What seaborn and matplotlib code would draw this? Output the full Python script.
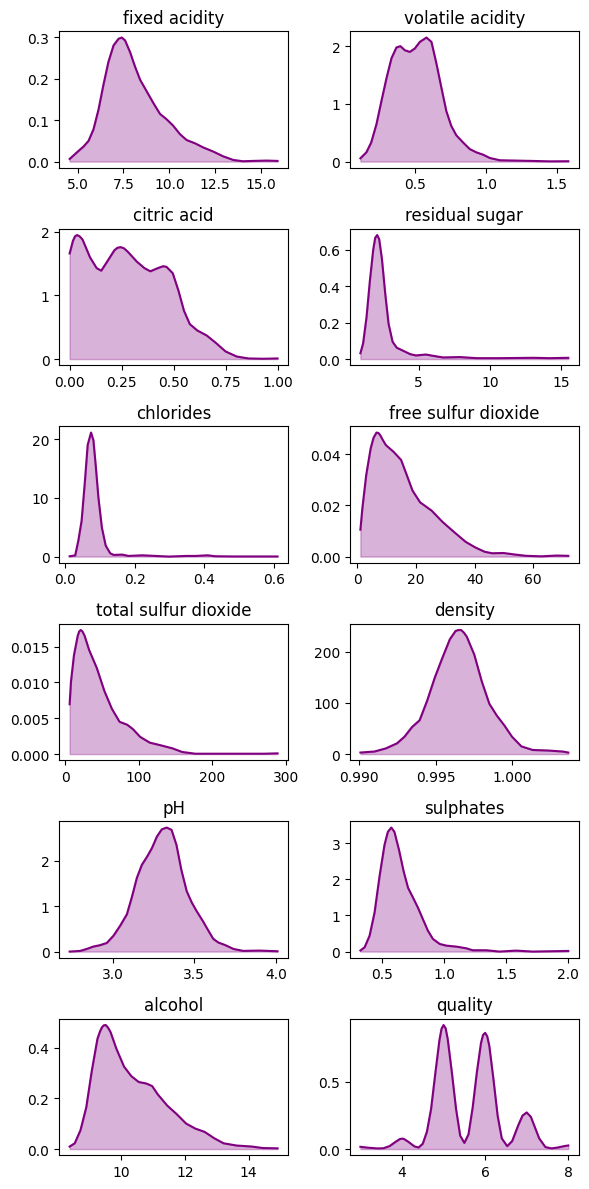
import numpy as np
import matplotlib.pyplot as plt
import seaborn as sns

# density curves (x, density)
fixed_acidity_x = [4.57, 4.96, 5.33, 5.6, 5.87, 6.14, 6.41, 6.68, 6.96, 7.23, 7.41, 7.59, 7.86, 8.13, 8.41, 8.77, 9.13, 9.49, 9.85, 10.2, 10.58, 10.94, 11.4, 11.85, 12.4, 12.93, 13.48, 14.0, 14.56, 15.29, 15.89]
fixed_acidity_y = [0.0063, 0.022, 0.0365, 0.05, 0.078, 0.125, 0.185, 0.24, 0.28, 0.296, 0.299, 0.292, 0.264, 0.229, 0.197, 0.169, 0.141, 0.115, 0.102, 0.087, 0.066, 0.052, 0.044, 0.034, 0.024, 0.0127, 0.004, 0.0008, 0.0016, 0.0024, 0.0016]

volatile_acidity_x = [0.114, 0.156, 0.19, 0.227, 0.262, 0.298, 0.333, 0.368, 0.396, 0.427, 0.462, 0.498, 0.533, 0.58, 0.615, 0.65, 0.686, 0.72, 0.755, 0.79, 0.838, 0.885, 0.932, 0.979, 1.026, 1.097, 1.215, 1.33, 1.45, 1.58]
volatile_acidity_y = [0.057, 0.16, 0.33, 0.646, 1.046, 1.446, 1.79, 1.977, 2.0, 1.93, 1.9, 1.96, 2.074, 2.149, 2.074, 1.70, 1.27, 0.874, 0.617, 0.457, 0.331, 0.217, 0.16, 0.12, 0.063, 0.023, 0.017, 0.011, 0.004, 0.006]

citric_acid_x = [0.0, 0.016, 0.026, 0.036, 0.048, 0.062, 0.098, 0.13, 0.152, 0.18, 0.215, 0.23, 0.246, 0.262, 0.279, 0.324, 0.36, 0.388, 0.424, 0.45, 0.466, 0.496, 0.524, 0.55, 0.578, 0.614, 0.66, 0.705, 0.75, 0.804, 0.86, 0.93, 1.0]
citric_acid_y = [1.66, 1.86, 1.93, 1.95, 1.93, 1.88, 1.60, 1.43, 1.39, 1.53, 1.71, 1.75, 1.76, 1.74, 1.69, 1.53, 1.43, 1.38, 1.43, 1.46, 1.45, 1.35, 1.07, 0.76, 0.55, 0.45, 0.37, 0.25, 0.12, 0.04, 0.01, 0.005, 0.01]

residual_sugar_x = [0.9, 1.09, 1.33, 1.56, 1.8, 1.94, 2.08, 2.22, 2.41, 2.65, 2.88, 3.16, 3.45, 3.92, 4.4, 4.8, 5.5, 6.0, 6.7, 7.9, 9.06, 10.7, 13.06, 14.2, 15.5]
residual_sugar_y = [0.032, 0.086, 0.23, 0.425, 0.60, 0.665, 0.68, 0.657, 0.55, 0.354, 0.193, 0.095, 0.0625, 0.045, 0.027, 0.02, 0.025, 0.018, 0.009, 0.011, 0.005, 0.005, 0.007, 0.005, 0.007]

chlorides_x = [0.012, 0.028, 0.037, 0.0465, 0.056, 0.064, 0.0737, 0.0805, 0.087, 0.095, 0.105, 0.116, 0.129, 0.139, 0.163, 0.182, 0.221, 0.298, 0.347, 0.376, 0.41, 0.43, 0.482, 0.611]
chlorides_y = [0.05, 0.2, 2.7, 6.1, 12.8, 19.0, 21.1, 19.8, 15.6, 10.0, 4.9, 1.85, 0.56, 0.28, 0.34, 0.11, 0.22, 0.0, 0.11, 0.11, 0.22, 0.06, 0.02, 0.02]

free_so2_x = [1.0, 1.7, 3.0, 4.5, 5.5, 6.5, 7.2, 7.8, 8.7, 9.7, 12.3, 14.9, 16.8, 18.8, 21.4, 25.3, 29.1, 33.0, 36.9, 40.2, 43.4, 46.0, 49.9, 53.8, 57.6, 62.8, 68.0, 72.0]
free_so2_y = [0.0105, 0.0192, 0.032, 0.0423, 0.0465, 0.0485, 0.0483, 0.0474, 0.0455, 0.0436, 0.041, 0.0378, 0.032, 0.0258, 0.0212, 0.018, 0.0135, 0.0096, 0.0058, 0.0036, 0.0019, 0.0013, 0.0014, 0.0008, 0.0003, 0.0001, 0.0004, 0.0003]

total_so2_x = [6, 7.8, 11.9, 17, 19, 21.2, 23.5, 26.4, 32.6, 43, 53.3, 63.6, 74, 84.3, 92, 102, 115, 131, 146, 159, 177, 219, 271, 289]
total_so2_y = [0.00695, 0.0101, 0.0138, 0.0165, 0.0171, 0.0173, 0.0171, 0.0165, 0.0145, 0.012, 0.0088, 0.0063, 0.0045, 0.0041, 0.0035, 0.0024, 0.0016, 0.0012, 0.0008, 0.0003, 0.00005, 0.00005, 0.00005, 0.0001]

density_x = [0.99007, 0.99099, 0.99173, 0.99247, 0.99296, 0.99346, 0.99395, 0.99444, 0.99494, 0.99543, 0.99593, 0.9963, 0.99648, 0.99667, 0.99685, 0.99704, 0.99753, 0.99802, 0.99852, 0.99901, 0.9995, 1.0, 1.00062, 1.00136, 1.00235, 1.00333, 1.00369]
density_y = [3, 5, 11, 21, 34, 53, 66, 104, 149, 187, 224, 240, 242, 242, 237, 229, 194, 142, 98, 75, 56, 34, 15, 8, 7, 5, 3]

ph_x = [2.735, 2.8, 2.84, 2.88, 2.92, 2.963, 3.004, 3.045, 3.086, 3.116, 3.147, 3.178, 3.21, 3.24, 3.27, 3.3, 3.33, 3.36, 3.39, 3.42, 3.453, 3.484, 3.514, 3.555, 3.586, 3.616, 3.647, 3.688, 3.74, 3.8, 3.9, 4.01]
ph_y = [0.0, 0.015, 0.058, 0.11, 0.14, 0.19, 0.35, 0.57, 0.82, 1.19, 1.62, 1.91, 2.09, 2.28, 2.53, 2.69, 2.73, 2.68, 2.35, 1.80, 1.33, 1.08, 0.89, 0.655, 0.46, 0.28, 0.2, 0.145, 0.058, 0.015, 0.022, 0.007]

sulphates_x = [0.326, 0.36, 0.40, 0.44, 0.48, 0.52, 0.547, 0.575, 0.60, 0.637, 0.674, 0.71, 0.75, 0.79, 0.83, 0.87, 0.91, 0.965, 1.02, 1.1, 1.18, 1.23, 1.34, 1.446, 1.58, 1.714, 1.875, 2.0]
sulphates_y = [0.03, 0.12, 0.44, 1.08, 2.08, 2.95, 3.31, 3.43, 3.31, 2.81, 2.22, 1.76, 1.49, 1.21, 0.89, 0.575, 0.35, 0.21, 0.164, 0.137, 0.09, 0.037, 0.037, 0.0, 0.027, 0.0, 0.01, 0.018]

alcohol_x = [8.4, 8.56, 8.74, 8.92, 9.09, 9.27, 9.35, 9.41, 9.47, 9.53, 9.6, 9.68, 9.86, 10.1, 10.33, 10.56, 10.8, 10.98, 11.15, 11.45, 11.74, 12.04, 12.33, 12.62, 12.92, 13.21, 13.62, 14.1, 14.45, 14.9]
alcohol_y = [0.010, 0.023, 0.075, 0.165, 0.307, 0.436, 0.465, 0.481, 0.489, 0.49, 0.48, 0.462, 0.397, 0.326, 0.288, 0.265, 0.259, 0.249, 0.217, 0.172, 0.139, 0.101, 0.081, 0.068, 0.043, 0.023, 0.014, 0.010, 0.004, 0.003]

quality_x = [3.0, 3.2, 3.4, 3.55, 3.7, 3.85, 3.95, 4.0, 4.05, 4.15, 4.3, 4.4, 4.5, 4.6, 4.7, 4.8, 4.9, 4.95, 5.0, 5.05, 5.1, 5.2, 5.3, 5.4, 5.5, 5.6, 5.7, 5.8, 5.9, 5.95, 6.0, 6.05, 6.1, 6.2, 6.3, 6.4, 6.53, 6.65, 6.8, 6.9, 7.0, 7.1, 7.2, 7.3, 7.45, 7.6, 7.75, 7.9, 8.0]
quality_y = [0.017, 0.010, 0.005, 0.006, 0.022, 0.055, 0.075, 0.078, 0.075, 0.055, 0.02, 0.012, 0.04, 0.13, 0.30, 0.56, 0.81, 0.895, 0.924, 0.90, 0.82, 0.57, 0.30, 0.10, 0.046, 0.11, 0.31, 0.57, 0.79, 0.85, 0.866, 0.84, 0.77, 0.52, 0.25, 0.08, 0.022, 0.06, 0.18, 0.25, 0.273, 0.24, 0.16, 0.08, 0.015, 0.005, 0.012, 0.022, 0.027]

titles = ['fixed acidity', 'volatile acidity', 'citric acid', 'residual sugar',
          'chlorides', 'free sulfur dioxide', 'total sulfur dioxide', 'density',
          'pH', 'sulphates', 'alcohol', 'quality']
curves = [(fixed_acidity_x, fixed_acidity_y), (volatile_acidity_x, volatile_acidity_y),
          (citric_acid_x, citric_acid_y), (residual_sugar_x, residual_sugar_y),
          (chlorides_x, chlorides_y), (free_so2_x, free_so2_y),
          (total_so2_x, total_so2_y), (density_x, density_y),
          (ph_x, ph_y), (sulphates_x, sulphates_y),
          (alcohol_x, alcohol_y), (quality_x, quality_y)]

fig, axes = plt.subplots(6, 2, figsize=(6, 12))

for ax, title, (x, y) in zip(axes.flat, titles, curves):
    ax.fill_between(x, y, color='purple', alpha=0.3)
    sns.lineplot(x=x, y=y, ax=ax, color='purple', linewidth=1.5)
    ax.set_title(title)
    ax.set_xlabel('')
    ax.set_ylabel('')

plt.tight_layout()
plt.savefig('out.png', dpi=100, bbox_inches='tight')
